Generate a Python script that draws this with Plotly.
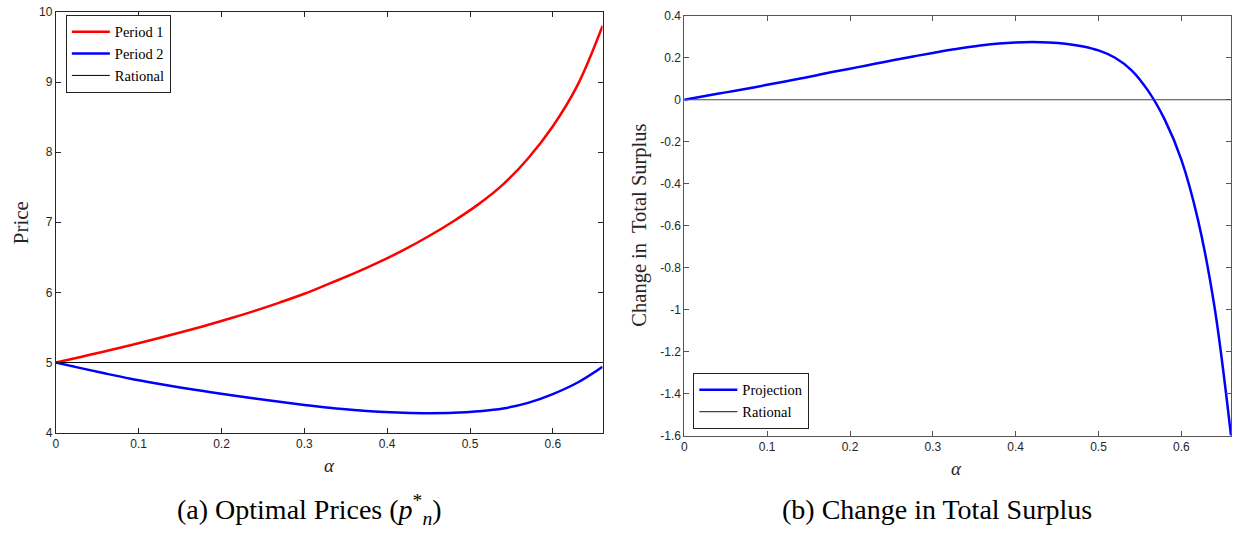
import plotly.graph_objects as go

# ---- data ----
alpha_a = [0, 0.03, 0.06, 0.09, 0.12, 0.15, 0.18, 0.21, 0.24, 0.27, 0.30, 0.33,
           0.36, 0.39, 0.42, 0.45, 0.48, 0.51, 0.54, 0.57, 0.60, 0.63, 0.66]
period1 = [5.0, 5.08, 5.162, 5.247, 5.335, 5.427, 5.524, 5.627, 5.737, 5.855, 5.98, 6.125,
           6.27, 6.43, 6.605, 6.80, 7.015, 7.255, 7.54, 7.91, 8.37, 8.96, 9.80]
period2 = [5.0, 4.92, 4.843, 4.77, 4.705, 4.645, 4.59, 4.538, 4.488, 4.44, 4.395, 4.355,
           4.322, 4.298, 4.284, 4.278, 4.283, 4.305, 4.345, 4.425, 4.55, 4.715, 4.94]
rational_a = [5.0, 5.0]

alpha_b = [0, 0.02, 0.04, 0.06, 0.08, 0.10, 0.12, 0.14, 0.16, 0.18, 0.20, 0.22, 0.24, 0.26, 0.28, 0.30, 0.32,
           0.34, 0.36, 0.38, 0.40, 0.42, 0.44, 0.46, 0.48, 0.50, 0.52, 0.54, 0.56, 0.58, 0.60, 0.62, 0.64, 0.66]
projection = [0, 0.014, 0.028, 0.042, 0.056, 0.071, 0.086, 0.101, 0.117, 0.133, 0.148, 0.163, 0.179, 0.194,
              0.209, 0.223, 0.237, 0.249, 0.260, 0.268, 0.273, 0.275, 0.273, 0.267, 0.255, 0.235, 0.200,
              0.140, 0.042, -0.095, -0.285, -0.57, -0.985, -1.6]
rational_b = [0.0, 0.0]
x_ends = [0, 0.66]

W, H = 1235, 539
def px(x):
    return x / W
def py(y):
    return 1 - y / H

SERIF = "Liberation Serif, Times New Roman, serif"
SANS = "Liberation Sans, Arial, sans-serif"
AX = "#262626"
AX2 = "#555555"

fig = go.Figure()
fig.add_trace(go.Scatter(x=alpha_a, y=period1, mode="lines", name="Period 1",
                         line=dict(color="#ff0000", width=2.5, shape="spline", smoothing=1), xaxis="x", yaxis="y", legend="legend"))
fig.add_trace(go.Scatter(x=alpha_a, y=period2, mode="lines", name="Period 2",
                         line=dict(color="#0000ff", width=2.5, shape="spline", smoothing=1), xaxis="x", yaxis="y", legend="legend"))
fig.add_trace(go.Scatter(x=x_ends, y=rational_a, mode="lines", name="Rational",
                         line=dict(color="black", width=1), xaxis="x", yaxis="y", legend="legend"))
fig.add_trace(go.Scatter(x=alpha_b, y=projection, mode="lines", name="Projection",
                         line=dict(color="#0000ff", width=2.5, shape="spline", smoothing=1), xaxis="x2", yaxis="y2", legend="legend2"))
fig.add_trace(go.Scatter(x=x_ends, y=rational_b, mode="lines", name="Rational",
                         line=dict(color="#444444", width=1.2), xaxis="x2", yaxis="y2", legend="legend2"))

def axstyle(col):
    return dict(showgrid=False, zeroline=False, showline=True, linecolor=col, linewidth=1,
                mirror="ticks", ticks="inside", ticklen=5, tickcolor=col,
                tickfont=dict(family=SANS, size=12, color=AX))
xt = [0, 0.1, 0.2, 0.3, 0.4, 0.5, 0.6]
xl = ["0", "0.1", "0.2", "0.3", "0.4", "0.5", "0.6"]

legfont = dict(family=SERIF, size=14.5, color="black")
fig.update_layout(
    width=W, height=H, margin=dict(l=0, r=0, t=0, b=0),
    paper_bgcolor="white", plot_bgcolor="white",
    xaxis=dict(domain=[px(53), px(601)], range=[0, 0.66], anchor="y", tickvals=xt, ticktext=xl, **axstyle(AX)),
    yaxis=dict(domain=[py(437), py(5)], range=[4, 10], anchor="x", tickvals=[4, 5, 6, 7, 8, 9, 10], **axstyle(AX)),
    xaxis2=dict(domain=[px(683), px(1231)], range=[0, 0.66], anchor="y2", tickvals=xt, ticktext=xl, **axstyle(AX2)),
    yaxis2=dict(domain=[py(440), py(9)], range=[-1.6, 0.4], anchor="x2",
                tickvals=[-1.6, -1.4, -1.2, -1, -0.8, -0.6, -0.4, -0.2, 0, 0.2, 0.4],
                ticktext=["-1.6", "-1.4", "-1.2", "-1", "-0.8", "-0.6", "-0.4", "-0.2", "0", "0.2", "0.4"],
                **axstyle(AX2)),
    showlegend=True,
    legend=dict(x=px(63), y=py(8), xanchor="left", yanchor="top", bgcolor="white",
                bordercolor="#222222", borderwidth=1, font=legfont,
                tracegroupgap=0, itemwidth=38),
    legend2=dict(x=px(692), y=py(433), xanchor="left", yanchor="bottom", bgcolor="white",
                 bordercolor="#222222", borderwidth=1, font=legfont,
                 tracegroupgap=0, itemwidth=38),
)

annots = [
    dict(text="Price", x=px(18), y=py(221), textangle=-90, font=dict(family=SERIF, size=21, color=AX)),
    dict(text="Change in  Total Surplus", x=px(638), y=py(224), textangle=-90, font=dict(family=SERIF, size=20.5, color=AX)),
    dict(text="<i>α</i>", x=px(327), y=py(471), font=dict(family=SERIF, size=19, color=AX)),
    dict(text="<i>α</i>", x=px(956), y=py(474), font=dict(family=SERIF, size=19, color=AX)),
    dict(text="(a) Optimal Prices (<i>p</i><sup>*</sup><sub><i>n</i></sub>)", x=px(307), y=py(516),
         font=dict(family=SERIF, size=28, color="black")),
    dict(text="(b) Change in Total Surplus", x=px(936), y=py(516),
         font=dict(family=SERIF, size=28, color="black")),
]
for a in annots:
    fig.add_annotation(xref="paper", yref="paper", showarrow=False, xanchor="center", yanchor="middle", **a)

fig.write_html("out.html", config={"displayModeBar": False},
               post_script="document.body.style.margin='0';document.body.style.overflow='hidden';")
